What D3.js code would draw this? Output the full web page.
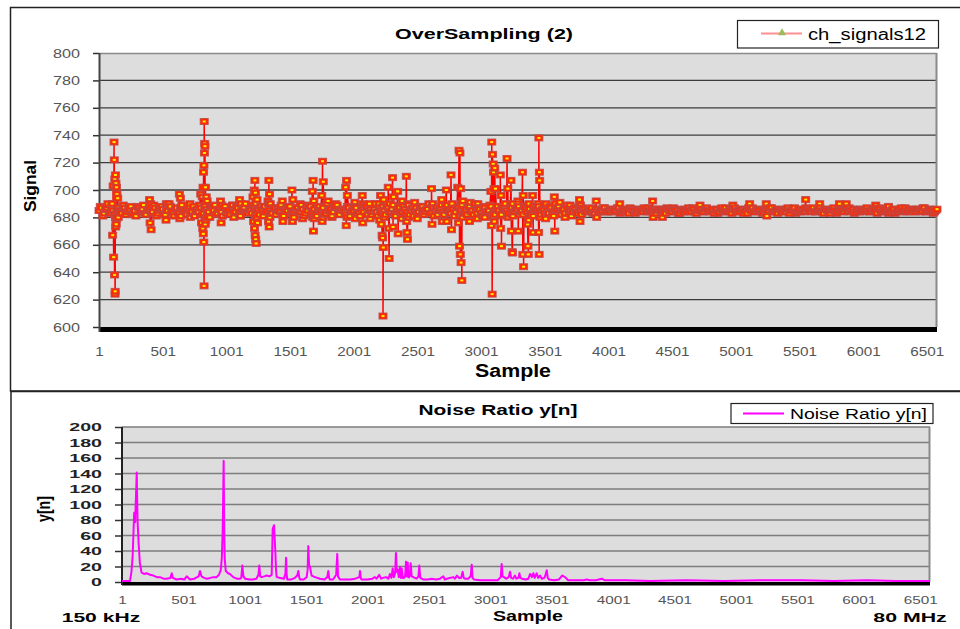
<!DOCTYPE html>
<html><head><meta charset="utf-8">
<script src="https://cdn.jsdelivr.net/npm/d3@7"></script>
<style>
body{margin:0;background:#fff}
svg{display:block}
text{font-family:"Liberation Sans",Arial,Helvetica,sans-serif}
</style>
</head><body>
<svg id="chart" width="960" height="629"></svg>
<script>
// ---- data ----
const sampleTicks = [1,501,1001,1501,2001,2501,3001,3501,4001,4501,5001,5501,6001,6501];
const signalTicks = [600,620,640,660,680,700,720,740,760,780,800];
const noiseTicks = [0,20,40,60,80,100,120,140,160,180,200];
const lastSample = 6581;

// steady part of ch_signals12: readings every 20 samples from sample 1 (A) and from sample 11 (B)
const signalStep = 20;
const signalBaseA = [
685,687,683,686,684,688,682,686,685,683,687,684,686,682,685,688,684,686,683,685,
686,684,687,683,685,686,682,685,688,684,686,683,687,685,684,686,683,688,685,684,
687,683,686,684,688,685,682,686,684,687,683,685,686,684,688,683,685,687,684,686,
683,687,685,682,686,688,684,685,683,687,686,684,682,686,685,688,683,685,687,684,
686,683,685,688,684,682,686,685,687,683,685,686,684,688,683,686,685,682,687,684,
685,687,683,686,684,688,685,682,686,684,687,683,685,688,684,686,683,685,687,684,
686,684,682,687,685,683,688,685,684,686,683,687,685,682,686,684,688,685,683,686,
684,687,685,683,686,688,684,682,685,687,683,686,684,685,688,683,686,685,682,687,
685,683,687,684,686,682,685,688,684,686,683,685,687,684,686,683,685,688,684,685,
686,684,685,683,687,685,684,686,683,685,687,684,686,685,683,686,684,685,687,684,
685,686,684,685,687,684,686,685,683,686,685,684,686,685,687,684,685,686,684,685,
686,684,685,687,685,684,686,685,683,685,686,684,685,687,684,686,685,684,686,685,
684,686,685,683,686,685,687,684,685,686,684,685,686,683,685,687,685,684,686,685,
685,684,686,685,687,684,685,686,684,685,686,683,685,687,684,686,685,684,686,685,
686,684,685,687,684,686,685,683,686,685,684,686,685,687,684,685,686,684,685,686,
684,686,685,684,686,685,687,684,685,686,683,685,686,684,685,687,685,684,686,685,
685,686,684,685,687,684,686,685,684,686
];
const signalBaseB = [
688,681,686,690,683,685,680,687,684,689,682,686,688,683,681,687,685,689,682,686,
683,689,681,686,688,682,685,690,684,681,687,683,689,685,682,688,684,681,686,689,
682,688,684,680,687,689,683,686,681,688,685,682,689,684,687,681,686,690,683,685,
689,682,686,688,681,684,690,683,687,682,685,689,681,686,688,683,680,687,684,689,
681,687,689,683,686,681,688,684,682,690,685,681,687,689,682,686,684,688,681,685,
688,683,681,687,689,682,686,684,690,681,685,688,682,687,684,689,681,686,683,688,
682,689,685,681,687,684,688,682,686,690,683,681,687,685,689,682,686,684,688,681,
687,681,689,684,682,688,685,690,683,686,681,687,684,689,682,685,688,681,686,690,
683,688,681,686,690,684,682,687,689,683,681,686,688,682,685,689,683,687,681,686,
688,682,686,689,683,681,687,684,688,682,686,684,685,687,683,686,684,685,687,684,
684,686,685,687,683,685,686,684,687,685,683,686,685,684,686,687,684,685,683,686,
686,685,683,686,684,687,685,683,686,684,685,687,684,686,683,685,686,684,687,685,
685,683,686,684,687,685,684,686,683,687,685,684,686,685,683,686,687,684,685,686,
683,686,685,687,684,685,683,686,685,684,687,685,686,683,685,684,686,687,685,684,
687,684,686,685,683,686,684,685,687,683,686,685,684,686,687,685,683,686,684,685,
685,687,684,686,685,683,686,684,685,687,684,686,683,685,686,684,687,685,684,686,
684,686,685,687,684,685,686,683,685
];

// bursts of ch_signals12: [sample, value]
const signalSpikes = [
[104,690],[108,667],[112,703],[116,651],[119,735],[121,722],[123,638],[125,708],[127,624],[128,626],
[130,711],[132,673],[134,705],[136,675],[138,702],[140,679],[142,697],[145,681],[148,694],[152,680],
[398,693],[402,676],[406,690],[410,671],[414,688],
[527,678],[530,690],
[632,697],[636,679],[640,694],[645,681],
[715,690],[718,680],
[800,697],[806,676],[812,695],[816,672],[818,702],[820,668],[822,713],[824,662],[825,718],[826,630],
[827,750],[829,727],[831,734],[833,732],[835,675],[837,702],[840,678],[843,695],[847,680],[850,692],[855,681],
[955,692],[960,676],[965,689],
[1050,689],[1060,680],
[1105,693],[1110,681],[1115,690],
[1210,695],[1215,677],[1220,700],[1222,672],[1225,707],[1227,667],[1229,698],[1231,664],[1233,690],
[1235,661],[1238,680],[1242,693],[1246,676],
[1328,692],[1332,677],[1335,707],[1337,673],[1340,697],[1343,680],[1346,690],
[1440,692],[1445,677],
[1516,700],[1520,677],[1523,693],[1527,681],
[1580,690],[1600,679],
[1676,699],[1679,680],[1682,707],[1685,670],[1688,692],[1691,679],
[1750,696],[1753,677],[1756,721],[1759,680],[1762,706],[1766,683],
[1800,692],[1830,680],[1860,690],
[1938,702],[1942,674],[1945,707],[1948,680],[1951,696],
[2010,691],[2015,679],
[2068,696],[2072,676],[2076,690],
[2125,690],[2130,679],
[2200,690],[2205,678],[2212,696],[2218,675],[2224,667],[2228,665],[2231,608],[2233,658],[2236,693],[2240,680],
[2272,702],[2276,672],[2279,650],[2283,690],
[2306,709],[2310,673],[2314,695],
[2346,699],[2350,668],[2354,688],
[2378,679],[2382,692],
[2414,710],[2417,677],[2420,669],[2423,664],[2426,690],[2430,680],
[2480,691],[2500,679],[2540,688],
[2612,701],[2616,675],[2620,690],
[2692,693],[2696,677],
[2728,700],[2732,677],[2736,689],
[2765,711],[2769,671],[2773,690],
[2818,702],[2823,676],[2828,729],[2832,659],[2835,727],[2838,653],[2841,701],[2844,647],[2847,690],
[2850,634],[2854,680],[2858,692],
[2910,677],[2915,691],
[2972,679],[2976,690],
[3025,688],[3030,680],
[3078,699],[3082,674],[3085,735],[3088,624],[3091,726],[3094,680],[3096,719],[3099,713],[3102,701],[3105,677],
[3109,716],[3112,682],[3114,701],
[3152,711],[3155,672],[3158,696],[3161,659],[3164,688],
[3205,723],[3208,682],[3211,701],[3214,680],
[3236,707],[3239,670],[3242,682],[3245,655],[3247,654],[3250,690],
[3290,692],[3293,670],[3296,688],
[3326,713],[3329,653],[3332,696],[3335,644],[3338,688],
[3366,675],[3369,659],[3372,653],[3375,678],[3378,690],
[3406,696],[3410,669],[3414,688],
[3450,690],[3453,669],[3455,738],[3457,653],[3459,713],[3461,707],[3464,680],
[3508,679],[3512,690],
[3576,695],[3580,670],[3584,690],
[3620,691],[3660,680],[3700,689],
[3774,693],[3778,677],[3782,689],
[3905,692],[3909,680],
[4090,690],
[4348,692],[4352,680],
[4424,680],
[4720,689],
[4978,689],
[5110,690],
[5240,690],[5245,681],
[5550,693],
[5660,690],
[5815,690],[5868,690],
[6100,689],[6200,688]
];

// Noise Ratio y[n]: [sample, value]
const noiseRatio = [
[1,0],[66,0],[78,12],[88,33],[100,88],[108,76],[121,140],[128,76],[136,50],[146,24],[160,11],[180,9],
[202,10],[230,8],[256,7],[285,5],[310,5],[340,3],[365,3],[395,4],[406,10],[415,4],[446,2],[480,3],
[510,2],[528,6],[555,2],[590,3],[625,6],[636,13],[648,6],[670,4],[691,3],[720,4],[745,5],[772,5],
[790,8],[805,14],[814,30],[821,66],[829,155],[833,68],[838,28],[846,13],[865,10],[880,9],[907,5],
[935,3],[962,3],[972,4],[981,20],[990,6],[1003,3],[1040,2],[1068,2],[1095,3],[1112,8],[1119,20],
[1126,6],[1139,5],[1160,6],[1180,7],[1200,6],[1220,8],[1228,67],[1239,72],[1249,41],[1256,12],
[1261,5],[1290,4],[1320,3],[1332,10],[1337,30],[1342,8],[1347,2],[1380,2],[1410,4],[1430,8],
[1437,13],[1444,5],[1451,2],[1480,2],[1505,5],[1513,15],[1518,45],[1525,20],[1532,18],[1545,7],
[1573,5],[1613,3],[1650,2],[1672,5],[1681,13],[1688,4],[1695,2],[1720,2],[1745,8],[1754,35],
[1760,6],[1776,2],[1820,2],[1858,2],[1900,3],[1934,5],[1939,13],[1946,3],[1955,2],[2000,2],
[2040,3],[2061,5],[2075,3],[2096,8],[2110,3],[2127,4],[2150,5],[2170,3],[2183,9],[2195,4],
[2205,16],[2215,5],[2225,10],[2232,36],[2239,12],[2246,15],[2255,5],[2265,18],[2272,4],[2279,16],
[2288,4],[2297,4],[2306,6],[2314,25],[2320,6],[2328,24],[2333,5],[2340,5],[2346,8],[2352,23],
[2360,6],[2373,5],[2400,3],[2415,6],[2422,20],[2430,4],[2455,2],[2490,2],[2523,3],[2560,2],
[2590,3],[2618,6],[2630,2],[2648,3],[2670,4],[2699,5],[2712,3],[2729,7],[2745,4],[2762,4],
[2775,12],[2784,4],[2794,3],[2820,3],[2840,6],[2849,21],[2856,4],[2867,2],[2920,1],[2998,1],
[3060,1],[3085,5],[3093,22],[3100,6],[3112,5],[3130,3],[3150,5],[3161,12],[3170,4],[3185,3],
[3201,7],[3212,3],[3228,4],[3237,10],[3245,4],[3258,3],[3290,2],[3310,3],[3324,9],[3338,5],
[3351,10],[3362,4],[3378,10],[3390,4],[3405,7],[3420,3],[3440,4],[3450,8],[3460,14],[3468,4],
[3478,2],[3520,1],[3560,2],[3580,6],[3587,7],[3598,6],[3610,5],[3634,1],[3700,1],[3760,1],
[3786,2],[3810,1],[3860,1],[3908,3],[3930,1],[3975,1],[4100,1],[4300,0],[4600,1],[4900,0],
[5200,1],[5536,1],[5800,0],[6066,1],[6300,0],[6581,0]
];

// ---- drawing ----
const svg = d3.select("#chart");
const intFmt = d3.format("d");

// chart frames
svg.append("rect").attr("x",10.5).attr("y",7.5).attr("width",970).attr("height",383.5)
  .attr("fill","#fff").attr("stroke","#222").attr("stroke-width",1.5);
svg.append("rect").attr("x",11).attr("y",391.5).attr("width",970).attr("height",260)
  .attr("fill","#fff").attr("stroke","#222").attr("stroke-width",1.5);

function stretchLabels(sel, charW){
  sel.selectAll(".tick text").each(function(){
    const t = d3.select(this);
    t.attr("textLength", t.text().length*charW).attr("lengthAdjust","spacingAndGlyphs");
  });
}
function label(x, y, txt, size, weight, width, anchor, rot){
  const t = svg.append("text").attr("font-size",size).attr("font-weight",weight)
    .attr("fill","#000").attr("text-anchor",anchor||"middle").text(txt);
  if (rot) t.attr("transform",`translate(${x},${y}) rotate(-90)`);
  else t.attr("x",x).attr("y",y);
  if (width) t.attr("textLength",width).attr("lengthAdjust","spacingAndGlyphs");
  return t;
}

// ===== upper chart: OverSampling (2) =====
const xTop = d3.scaleLinear().domain([1,lastSample]).range([99,937]);
const yTop = d3.scaleLinear().domain([600,800]).range([327,53]);

const upper = svg.append("g");
upper.append("rect").attr("x",99).attr("y",53).attr("width",838).attr("height",274).attr("fill","#dddddd");
upper.append("g").selectAll("line").data(signalTicks.filter(v=>v>600 && v<800)).join("line")
  .attr("x1",99).attr("x2",937).attr("y1",d=>yTop(d)).attr("y2",d=>yTop(d))
  .attr("stroke","#3c3c3c").attr("stroke-width",1.3);
upper.append("line").attr("x1",99).attr("x2",937).attr("y1",53.5).attr("y2",53.5).attr("stroke","#8a8a8a").attr("stroke-width",1.5);
upper.append("line").attr("x1",936.5).attr("x2",936.5).attr("y1",53).attr("y2",327).attr("stroke","#8a8a8a").attr("stroke-width",2);
upper.append("rect").attr("x",99).attr("y",327).attr("width",838).attr("height",5).attr("fill","#000");

const yAxTop = upper.append("g").attr("transform","translate(99,0)")
  .call(d3.axisLeft(yTop).tickValues(signalTicks).tickFormat(intFmt).tickSize(6).tickPadding(13));
yAxTop.select(".domain").remove();
yAxTop.selectAll(".tick line").attr("stroke","#333").attr("stroke-width",1.5);
yAxTop.selectAll(".tick text").attr("font-size",13).attr("fill","#555").attr("font-family",null);
stretchLabels(yAxTop, 9);
upper.append("line").attr("x1",99.5).attr("x2",99.5).attr("y1",53).attr("y2",332).attr("stroke","#444").attr("stroke-width",2);

const xAxTop = upper.append("g").attr("transform","translate(0,327)")
  .call(d3.axisBottom(xTop).tickValues(sampleTicks).tickFormat(intFmt).tickSize(0).tickPadding(19.5));
xAxTop.select(".domain").remove();
xAxTop.selectAll(".tick text").attr("font-size",13).attr("fill","#555").attr("font-family",null);
stretchLabels(xAxTop, 8.5);

// series line and markers
const signalPoints = signalBaseA.map((v,i)=>({s:1+i*signalStep, v}))
  .concat(signalBaseB.map((v,i)=>({s:11+i*signalStep, v})))
  .concat(signalSpikes.map(([s,v])=>({s, v})))
  .sort((a,b)=>a.s-b.s);
upper.append("path").datum(signalPoints)
  .attr("d", d3.line().x(d=>xTop(d.s)).y(d=>yTop(d.v)))
  .attr("fill","none").attr("stroke","#ff0000").attr("stroke-width",1.5);
const mk = upper.append("g").selectAll("g").data(signalPoints).join("g")
  .attr("transform",d=>`translate(${xTop(d.s)},${yTop(d.v)})`);
mk.append("rect").attr("x",-4).attr("y",-3).attr("width",8).attr("height",6)
  .attr("fill","#ff2a00").attr("stroke","#c04848").attr("stroke-opacity",0.85).attr("stroke-width",1);
mk.append("rect").attr("x",-1.5).attr("y",-1).attr("width",3).attr("height",2).attr("fill","#ffee00");

label(484,38.5,"OverSampling (2)",15,"bold",178);
label(513,376.7,"Sample",17.5,"bold",76);
label(36,186,"Signal",17,"bold",52,"middle",true);

// legend
svg.append("rect").attr("x",737.5).attr("y",20.5).attr("width",201).attr("height",27.5)
  .attr("fill","#fff").attr("stroke","#222").attr("stroke-width",1.2);
svg.append("line").attr("x1",761).attr("x2",802).attr("y1",33.5).attr("y2",33.5)
  .attr("stroke","#ff9090").attr("stroke-width",2);
svg.append("path").attr("d",d3.symbol(d3.symbolTriangle,28)()).attr("transform","translate(782,33)")
  .attr("fill","#9bbb59");
label(808,40,"ch_signals12",16,"normal",118,"start");

// ===== lower chart: Noise Ratio y[n] =====
const xBot = d3.scaleLinear().domain([1,lastSample]).range([122,930]);
const yBot = d3.scaleLinear().domain([0,200]).range([582,427]);

const lower = svg.append("g");
lower.append("rect").attr("x",122).attr("y",427).attr("width",808).attr("height",155).attr("fill","#dddddd");
lower.append("g").selectAll("line").data(noiseTicks.filter(v=>v>0)).join("line")
  .attr("x1",122).attr("x2",930).attr("y1",d=>yBot(d)).attr("y2",d=>yBot(d))
  .attr("stroke","#7d7d7d").attr("stroke-width",1.4);
lower.append("line").attr("x1",929.5).attr("x2",929.5).attr("y1",427).attr("y2",582).attr("stroke","#8a8a8a").attr("stroke-width",2);
lower.append("rect").attr("x",122).attr("y",582).attr("width",808).attr("height",3.5).attr("fill","#000");

const yAxBot = lower.append("g").attr("transform","translate(122,0)")
  .call(d3.axisLeft(yBot).tickValues(noiseTicks).tickFormat(intFmt).tickSize(7).tickPadding(13));
yAxBot.select(".domain").remove();
yAxBot.selectAll(".tick line").attr("stroke","#333").attr("stroke-width",1.5);
yAxBot.selectAll(".tick text").attr("font-size",11.5).attr("font-weight","bold").attr("fill","#222").attr("font-family",null);
stretchLabels(yAxBot, 10.9);
lower.append("line").attr("x1",122).attr("x2",122).attr("y1",427).attr("y2",585).attr("stroke","#222").attr("stroke-width",2);

const xAxBot = lower.append("g").attr("transform","translate(0,582)")
  .call(d3.axisBottom(xBot).tickValues(sampleTicks).tickFormat(intFmt).tickSize(0).tickPadding(14));
xAxBot.select(".domain").remove();
xAxBot.selectAll(".tick text").attr("font-size",11.6).attr("fill","#555").attr("font-family",null);
stretchLabels(xAxBot, 8.5);

lower.append("path").datum(noiseRatio)
  .attr("d", d3.line().x(d=>xBot(d[0])).y(d=>yBot(d[1])-1))
  .attr("fill","none").attr("stroke","#ff00ff").attr("stroke-width",2).attr("stroke-linejoin","round");

label(498,415,"Noise Ratio y[n]",15,"bold",159);
label(528,620.5,"Sample",14.5,"bold",70);
label(61.7,621.5,"150 kHz",12.8,"bold",78.5,"start");
label(873.3,621.5,"80 MHz",12.8,"bold",73.5,"start");
label(50,509,"y[n]",18,"bold",26,"middle",true);

svg.append("rect").attr("x",731).attr("y",403.5).attr("width",202).attr("height",20)
  .attr("fill","#fff").attr("stroke","#222").attr("stroke-width",1.2);
svg.append("line").attr("x1",743).attr("x2",784).attr("y1",413.5).attr("y2",413.5)
  .attr("stroke","#ff00ff").attr("stroke-width",2);
label(790,418.5,"Noise Ratio y[n]",14,"normal",137,"start");
</script>
</body></html>
